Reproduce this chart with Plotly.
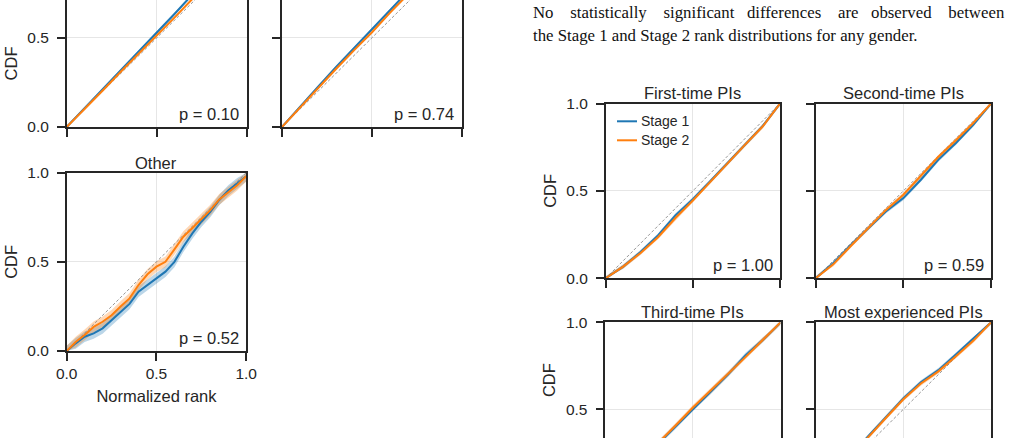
import plotly.graph_objects as go

W, H = 1020, 438
BLUE = "#1f77b4"
ORANGE = "#ff7f0e"
INK = "#262626"
SANS = "Liberation Sans, Arial, sans-serif"
SERIF = "Liberation Serif, Times New Roman, serif"
NB = "\u00a0"

# ---------------- data ----------------
x_dec = [0.0, 0.1, 0.2, 0.3, 0.4, 0.5, 0.6, 0.7, 0.8, 0.9, 1.0]
x_twenty = [0.0, 0.05, 0.1, 0.15, 0.2, 0.25, 0.3, 0.35, 0.4, 0.45, 0.5,
            0.55, 0.6, 0.65, 0.7, 0.75, 0.8, 0.85, 0.9, 0.95, 1.0]

# top-left gender panels (upper part cut off in the reference)
g1_stage1 = [0.0, 0.105, 0.21, 0.32, 0.425, 0.525, 0.635, 0.745, 0.845, 0.93, 1.0]
g1_stage2 = [0.0, 0.10, 0.205, 0.31, 0.41, 0.51, 0.615, 0.72, 0.82, 0.915, 1.0]
g2_stage1 = [0.0, 0.115, 0.225, 0.335, 0.44, 0.545, 0.655, 0.76, 0.855, 0.935, 1.0]
g2_stage2 = [0.0, 0.11, 0.215, 0.325, 0.43, 0.53, 0.64, 0.745, 0.845, 0.93, 1.0]

# "Other" gender
other_stage1 = [0.0, 0.043, 0.08, 0.099, 0.127, 0.174, 0.22, 0.264, 0.333, 0.37, 0.407,
                0.445, 0.50, 0.585, 0.66, 0.725, 0.78, 0.847, 0.90, 0.94, 0.98]
other_stage2 = [0.0, 0.05, 0.09, 0.135, 0.164, 0.20, 0.249, 0.295, 0.37, 0.43, 0.473,
                0.50, 0.57, 0.641, 0.69, 0.74, 0.79, 0.85, 0.89, 0.93, 0.98]

# PI experience panels
first_stage1 = [0.0, 0.067, 0.15, 0.245, 0.36, 0.452, 0.555, 0.66, 0.765, 0.87, 1.0]
first_stage2 = [0.0, 0.067, 0.145, 0.235, 0.345, 0.445, 0.552, 0.66, 0.765, 0.868, 1.0]
second_stage1 = [0.0, 0.086, 0.19, 0.287, 0.382, 0.459, 0.564, 0.679, 0.774, 0.88, 1.0]
second_stage2 = [0.0, 0.08, 0.185, 0.29, 0.39, 0.478, 0.585, 0.695, 0.79, 0.89, 1.0]
third_stage1 = [0.0, 0.1, 0.2, 0.3, 0.4, 0.505, 0.6, 0.7, 0.81, 0.9, 1.0]
third_stage2 = [0.0, 0.1, 0.2, 0.305, 0.405, 0.51, 0.605, 0.705, 0.80, 0.9, 1.0]
most_stage1 = [0.0, 0.12, 0.235, 0.345, 0.455, 0.563, 0.655, 0.725, 0.815, 0.905, 1.0]
most_stage2 = [0.0, 0.115, 0.23, 0.34, 0.45, 0.558, 0.648, 0.718, 0.805, 0.895, 1.0]

# confidence-band half widths (estimated)
ci_g1, ci_g2, ci_other = 0.008, 0.008, 0.03
ci_first, ci_second, ci_third, ci_most = 0.012, 0.012, 0.015, 0.012

panel_titles = [None, None, "Other", "First-time PIs", "Second-time PIs",
                "Third-time PIs", "Most experienced PIs"]
p_values = ["p = 0.10", "p = 0.74", "p = 0.52", "p = 1.00", "p = 0.59", None, None]
series_names = ["Stage 1", "Stage 2"]
series_colors = [BLUE, ORANGE]
tick_vals = [0.0, 0.5, 1.0]
tick_text = ["0.0", "0.5", "1.0"]
caption_lines = [
    "No statistically significant differences are observed between",
    "the Stage 1 and Stage 2 rank distributions for any gender.",
]

# ---------------- layout geometry (pixels) ----------------
# (x_left, x_right, y_top, y_bottom, y_range, show_ylabels, show_xlabels, cut)
geom = [
    (66.7, 246.7, 0.0, 127.0, [0, 127.0 / 178.3], True, False, "top"),
    (282.0, 461.7, 0.0, 127.0, [0, 127.0 / 178.3], False, False, "top"),
    (66.7, 246.2, 172.7, 351.0, [0, 1], True, True, None),
    (605.7, 780.0, 103.5, 278.3, [0, 1], True, False, None),
    (815.7, 991.0, 103.5, 278.3, [0, 1], False, False, None),
    (605.3, 780.5, 322.3, 438.0, [58.3 / 174.0, 1], True, False, "bottom"),
    (815.7, 991.0, 322.3, 438.0, [58.3 / 174.0, 1], False, False, "bottom"),
]

panel_data = [
    (x_dec, g1_stage1, g1_stage2, ci_g1),
    (x_dec, g2_stage1, g2_stage2, ci_g2),
    (x_twenty, other_stage1, other_stage2, ci_other),
    (x_dec, first_stage1, first_stage2, ci_first),
    (x_dec, second_stage1, second_stage2, ci_second),
    (x_dec, third_stage1, third_stage2, ci_third),
    (x_dec, most_stage1, most_stage2, ci_most),
]

fig = go.Figure()
layout = dict(
    width=W, height=H, margin=dict(l=0, r=0, t=0, b=0, pad=0, autoexpand=False),
    paper_bgcolor="white", plot_bgcolor="white",
    font=dict(family=SANS, color=INK, size=15.5),
    showlegend=False,
)
annotations = []
shapes = []

for i, ((xl, xr, yt, yb, yr, ylab, xlab, cut), (xs, s1, s2, ci)) in enumerate(zip(geom, panel_data), start=1):
    xa = "x" if i == 1 else f"x{i}"
    ya = "y" if i == 1 else f"y{i}"
    # bands
    for s, col in ((s1, "rgba(31,119,180,0.30)"), (s2, "rgba(255,127,14,0.30)")):
        up = [min(1.0, v + ci) for v in s]
        lo = [max(0.0, v - ci) for v in s]
        fig.add_trace(go.Scatter(x=xs + xs[::-1], y=up + lo[::-1], fill="toself",
                                 fillcolor=col, line=dict(width=0), mode="lines",
                                 hoverinfo="skip", showlegend=False, xaxis=xa, yaxis=ya))
    # reference diagonal
    fig.add_trace(go.Scatter(x=[0, 1], y=[0, 1], mode="lines",
                             line=dict(color="#8a8a8a", width=0.9, dash="3px,2px"),
                             hoverinfo="skip", showlegend=False, xaxis=xa, yaxis=ya))
    for s, col, nm in ((s1, BLUE, series_names[0]), (s2, ORANGE, series_names[1])):
        fig.add_trace(go.Scatter(x=xs, y=s, mode="lines", name=nm,
                                 line=dict(color=col, width=2),
                                 showlegend=False, xaxis=xa, yaxis=ya))

    xkey = "xaxis" if i == 1 else f"xaxis{i}"
    ykey = "yaxis" if i == 1 else f"yaxis{i}"
    common = dict(showgrid=True, gridcolor="#e6e6e6", gridwidth=1, zeroline=False,
                  showline=True, linecolor=INK, linewidth=1.5, automargin=False,
                  tickmode="array", tickvals=tick_vals, ticktext=tick_text,
                  ticklen=8, tickwidth=1.5, tickcolor=INK,
                  tickfont=dict(family=SANS, size=15.5, color=INK))
    xaxis = dict(common, domain=[xl / W, xr / W], range=[0, 1], anchor=ya,
                 showticklabels=xlab, ticks="outside", ticklabelstandoff=0)
    yaxis = dict(common, domain=[1 - yb / H, 1 - yt / H], range=yr, anchor=xa,
                 showticklabels=ylab, ticks="outside", mirror=True, ticklabelstandoff=5)
    if cut == "bottom":
        xaxis.update(side="top", ticks="", showticklabels=False, mirror=False)
    elif cut == "top":
        xaxis.update(mirror=False)
    else:
        xaxis.update(mirror=True)
    if ylab:
        yaxis.update(title=dict(text="CDF", font=dict(family=SANS, size=16.5, color=INK),
                                standoff=6))
    if xlab:
        xaxis.update(title=dict(text="Normalized rank", font=dict(family=SANS, size=16.5, color=INK),
                                standoff=9))
    layout[xkey] = xaxis
    layout[ykey] = yaxis

    if panel_titles[i - 1]:
        annotations.append(dict(text=panel_titles[i - 1], xref=f"{xa} domain", yref=f"{ya} domain",
                                x=0.5, y=1.0, xanchor="center", yanchor="bottom", showarrow=False,
                                font=dict(family=SANS, size=16.5, color=INK), yshift=-1))
    if p_values[i - 1]:
        annotations.append(dict(text=p_values[i - 1], xref=xa, yref=ya, x=0.97, y=0.075,
                                xanchor="right", yanchor="middle", showarrow=False,
                                font=dict(family=SANS, size=16.5, color=INK)))

# legend drawn inside the "First-time PIs" panel (line sample + label)
for k, (nm, col) in enumerate(zip(series_names, series_colors)):
    yy = 1 - (121.3 + 19 * k) / H
    shapes.append(dict(type="line", xref="paper", yref="paper", x0=617 / W, x1=637 / W,
                       y0=yy, y1=yy, line=dict(color=col, width=2)))
    annotations.append(dict(text=nm, xref="paper", yref="paper", x=639 / W, y=yy,
                            xanchor="left", yanchor="middle", showarrow=False,
                            font=dict(family=SANS, size=14, color=INK)))

# caption text (first line justified like the typeset original)
gaps = [NB * 3, NB * 3, NB * 2, NB * 3, NB * 2, NB * 3, NB * 3]
words = caption_lines[0].split(" ")
line1 = words[0] + "".join(" " + g + w for g, w in zip(gaps, words[1:]))
for k, line in enumerate([line1, caption_lines[1]]):
    annotations.append(dict(text=line, xref="paper", yref="paper", x=531 / W,
                            y=1 - (12 + 23 * k) / H, xanchor="left", yanchor="middle",
                            showarrow=False, font=dict(family=SERIF, size=16.8, color="#111111")))

layout["annotations"] = annotations
layout["shapes"] = shapes
fig.update_layout(**layout)
fig.write_html("out.html")
